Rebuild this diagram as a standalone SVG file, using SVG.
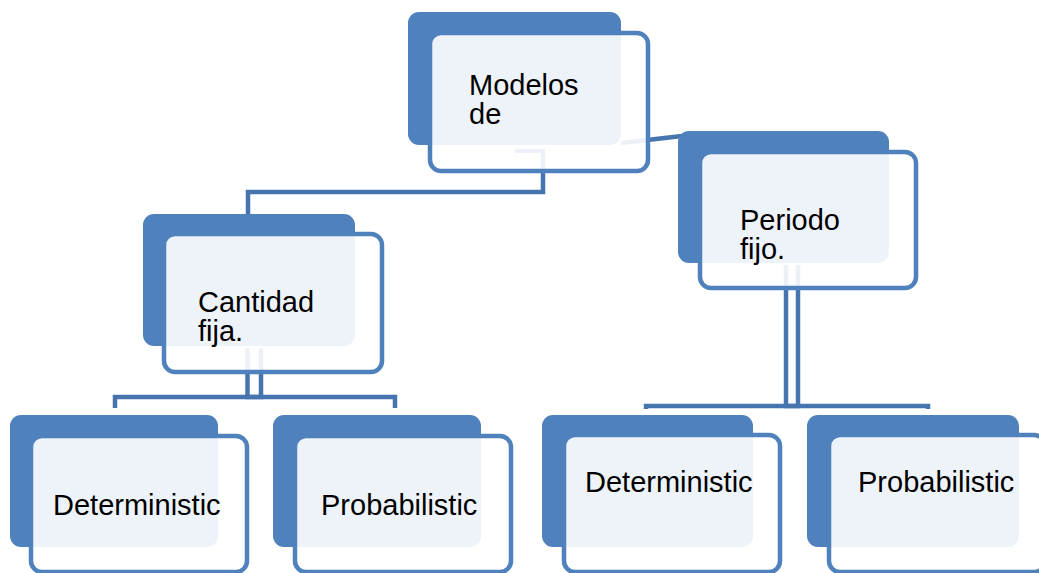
<svg xmlns="http://www.w3.org/2000/svg" width="1039" height="573" viewBox="0 0 1039 573">
<style>
.back{fill:#4F81BD;}
.front{fill:#FFFFFF;fill-opacity:0.9;stroke:#4F81BD;stroke-width:4.5;}
.conn{fill:none;stroke:#4674AE;stroke-width:4.5;}
text{font-family:"Liberation Sans",Arial,sans-serif;font-size:29px;fill:#000;}
</style>
<rect width="1039" height="573" fill="#FFFFFF"/>
<g id="connectors">
<polyline class="conn" points="515,151 543,151 543,192 248,192 248,215"/>
<line class="conn" x1="621" y1="143" x2="682" y2="136"/>
<polyline class="conn" points="247.5,348 247.5,397 261,397 261,348"/>
<polyline class="conn" points="115,408 115,397 395,397 395,408"/>
<polyline class="conn" points="786,265 786,406 798,406 798,265"/>
<polyline class="conn" points="646,409 646,406 928,406 928,409"/>
</g>
<g id="node-modelos">
<rect class="back" x="408" y="12" width="213" height="133" rx="11"/>
<rect class="front" x="430" y="33" width="218" height="138" rx="11"/>
<text x="469"><tspan x="469" y="95">Modelos</tspan><tspan x="469" y="124">de</tspan></text>
</g>
<g id="node-periodo">
<rect class="back" x="678" y="131" width="211" height="132" rx="11"/>
<rect class="front" x="700" y="152" width="216" height="136" rx="11"/>
<text x="740"><tspan x="740" y="230">Periodo</tspan><tspan x="740" y="259">fijo.</tspan></text>
</g>
<g id="node-cantidad">
<rect class="back" x="143" y="214" width="212" height="132" rx="11"/>
<rect class="front" x="164" y="234" width="218" height="138" rx="11"/>
<text x="198"><tspan x="198" y="312">Cantidad</tspan><tspan x="198" y="341">fija.</tspan></text>
</g>
<g id="node-det-left">
<rect class="back" x="10" y="415" width="208" height="132" rx="11"/>
<rect class="front" x="31" y="436" width="216" height="136" rx="11"/>
<text x="53" y="515">Deterministic</text>
</g>
<g id="node-prob-left">
<rect class="back" x="273" y="415" width="208" height="132" rx="11"/>
<rect class="front" x="295" y="436" width="216" height="136" rx="11"/>
<text x="321" y="515">Probabilistic</text>
</g>
<g id="node-det-right">
<rect class="back" x="542" y="415" width="211" height="132" rx="11"/>
<rect class="front" x="564" y="435" width="216" height="137" rx="11"/>
<text x="585" y="492">Deterministic</text>
</g>
<g id="node-prob-right">
<rect class="back" x="807" y="415" width="212" height="132" rx="11"/>
<rect class="front" x="829" y="435" width="216" height="137" rx="11"/>
<text x="858" y="492">Probabilistic</text>
</g>
</svg>
